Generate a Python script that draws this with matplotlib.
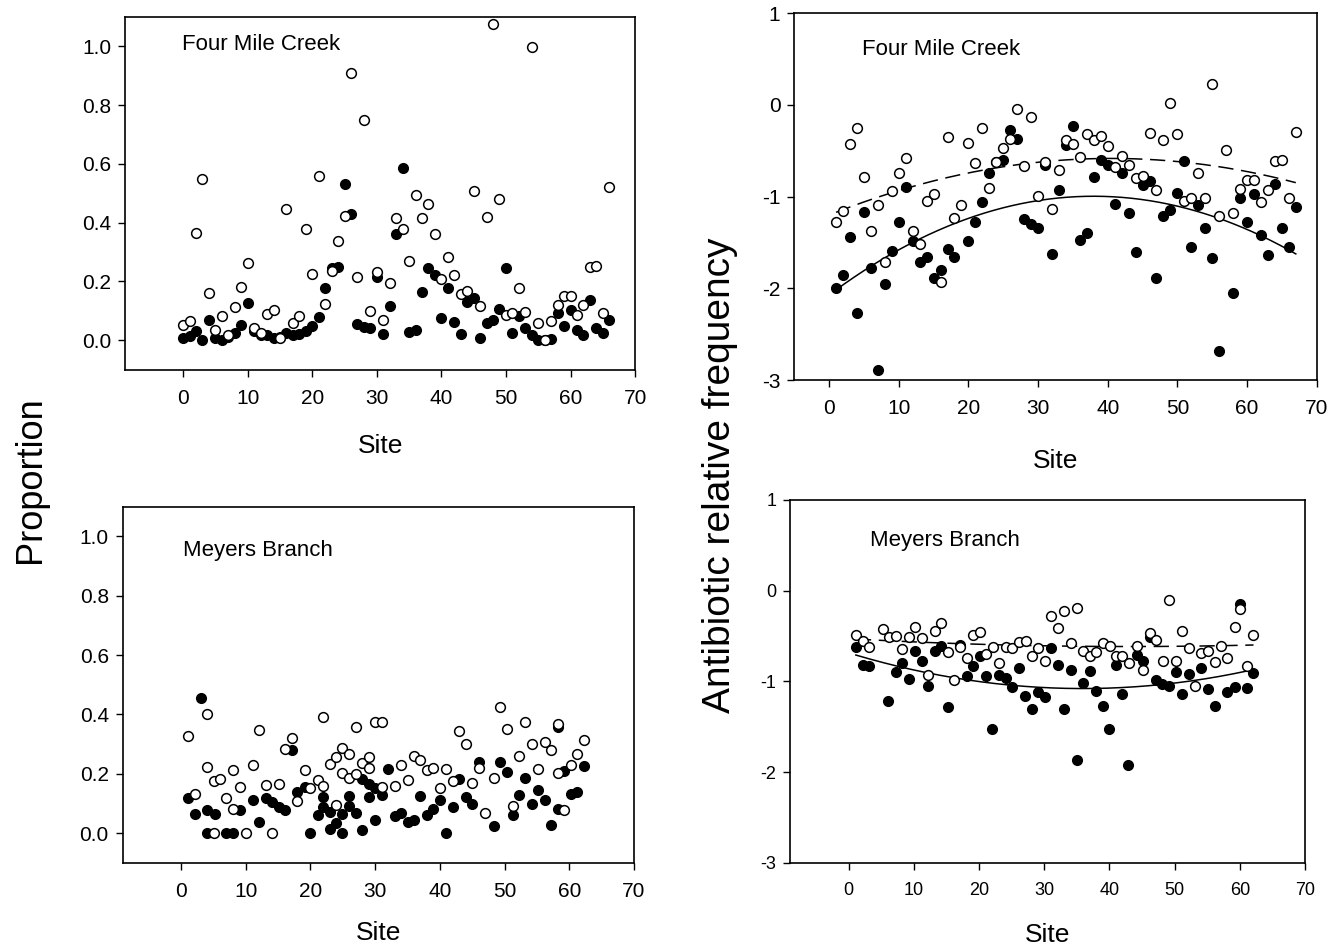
import numpy as np
import matplotlib
matplotlib.use("Agg")
import matplotlib.pyplot as plt

plt.rcParams['font.family'] = ['Liberation Sans', 'DejaVu Sans']
plt.rcParams['axes.unicode_minus'] = False

# ---- Four Mile Creek, proportion (sites 0..66) ----
fm_sites = list(range(0, 67))
fm_prop_open = [0.05, 0.065, 0.365, 0.548, 0.159, 0.034, 0.082, 0.019, 0.113, 0.18,
                0.263, 0.04, 0.026, 0.088, 0.102, 0.009, 0.446, 0.057, 0.082, 0.38,
                0.227, 0.558, 0.122, 0.236, 0.338, 0.423, 0.909, 0.215, 0.748, 0.098,
                0.232, 0.07, 0.193, 0.416, 0.38, 0.27, 0.493, 0.417, 0.464, 0.36,
                0.207, 0.282, 0.221, 0.156, 0.167, 0.509, 0.117, 0.42, 1.075, 0.482,
                0.085, 0.093, 0.178, 0.096, 0.998, 0.057, 0.0, 0.065, 0.119, 0.15,
                0.151, 0.085, 0.119, 0.249, 0.253, 0.094, 0.52]
fm_prop_filled = [0.006, 0.014, 0.031, 0.002, 0.068, 0.006, 0.0, 0.01, 0.023, 0.051,
                  0.125, 0.03, 0.017, 0.017, 0.006, 0.01, 0.023, 0.019, 0.02, 0.03,
                  0.048, 0.079, 0.179, 0.247, 0.249, 0.533, 0.429, 0.054, 0.045, 0.04,
                  0.215, 0.02, 0.116, 0.363, 0.587, 0.028, 0.036, 0.164, 0.247, 0.221,
                  0.074, 0.179, 0.062, 0.02, 0.13, 0.145, 0.008, 0.06, 0.068, 0.105,
                  0.246, 0.023, 0.082, 0.042, 0.017, 0.0, 0.0, 0.003, 0.094, 0.049,
                  0.102, 0.036, 0.019, 0.136, 0.042, 0.023, 0.07]

# ---- Four Mile Creek, antibiotic relative frequency (sites 1..67) ----
fm_freq_sites = list(range(1, 68))
fm_freq_open = [-1.279, -1.159, -0.428, -0.254, -0.79, -1.373, -1.087, -1.714, -0.935, -0.739,
                -0.576, -1.38, -1.518, -1.051, -0.971, -1.931, -0.344, -1.228, -1.09, -0.413,
                -0.638, -0.25, -0.909, -0.623, -0.467, -0.373, -0.043, -0.667, -0.13, -0.993,
                -0.62, -1.134, -0.71, -0.384, -0.428, -0.565, -0.315, -0.384, -0.341, -0.446,
                -0.674, -0.554, -0.656, -0.793, -0.772, -0.301, -0.928, -0.384, 0.018, -0.322,
                -1.047, -1.018, -0.746, -1.011, 0.232, -1.21, -0.493, -1.181, -0.917, -0.819,
                -0.819, -1.058, -0.928, -0.609, -0.601, -1.011, -0.293]
fm_freq_filled = [-2.0, -1.859, -1.435, -2.264, -1.163, -1.775, -2.895, -1.953, -1.594, -1.279,
                  -0.891, -1.486, -1.717, -1.659, -1.884, -1.797, -1.572, -1.663, np.nan, -1.489,
                  -1.275, -1.062, -0.739, -0.62, -0.6, -0.268, -0.366, -1.243, -1.297, -1.344,
                  -0.656, -1.627, -0.928, -0.438, -0.232, -1.478, -1.399, -0.783, -0.601, -0.656,
                  -1.08, -0.746, -1.174, -1.609, -0.873, -0.83, -1.888, -1.207, -1.145, -0.957,
                  -0.612, -1.551, -1.091, -1.344, -1.67, -2.685, np.nan, -2.051, -1.011, -1.272,
                  -0.975, -1.417, -1.634, -0.866, -1.337, -1.551, -1.109]

# ---- Meyers Branch, proportion ----
mb_prop_open_x = [1.1, 2.1, 4.0, 4.0, 5.1, 6.1, 5.1, 7.0, 8.0, 8.0, 9.1, 10.0, 11.1, 12.1, 13.1,
                  14.0, 15.1, 16.0, 17.1, 18.0, 19.1, 20.0, 21.1, 22.0, 22.0, 23.0, 24.0, 24.0,
                  24.9, 24.9, 26.0, 26.0, 27.0, 27.0, 28.0, 29.0, 29.0, 30.0, 31.0, 31.0, 33.0,
                  34.0, 35.0, 36.0, 37.0, 38.0, 39.0, 40.0, 41.0, 42.0, 43.0, 44.0, 44.9, 46.0,
                  47.0, 48.3, 49.3, 50.3, 51.3, 52.3, 53.2, 54.2, 55.2, 56.2, 57.2, 58.2, 58.2,
                  59.2, 60.2, 61.2, 62.2]
mb_prop_open_y = [0.326, 0.133, 0.402, 0.222, 0.175, 0.182, 0.0, 0.118, 0.213, 0.082, 0.155, 0.0,
                  0.23, 0.346, 0.161, 0.0, 0.165, 0.284, 0.319, 0.107, 0.211, 0.153, 0.178, 0.158,
                  0.391, 0.234, 0.256, 0.096, 0.288, 0.203, 0.267, 0.187, 0.198, 0.357, 0.237,
                  0.256, 0.219, 0.374, 0.374, 0.155, 0.158, 0.228, 0.178, 0.26, 0.247, 0.211,
                  0.219, 0.153, 0.217, 0.174, 0.344, 0.301, 0.169, 0.219, 0.069, 0.187, 0.425,
                  0.352, 0.09, 0.258, 0.374, 0.301, 0.217, 0.307, 0.279, 0.369, 0.203, 0.076,
                  0.228, 0.267, 0.315]
mb_prop_filled_x = [1.1, 2.1, 3.1, 4.0, 4.0, 5.2, 7.0, 8.0, 9.1, 11.1, 12.1, 13.1, 14.0, 15.1,
                    16.0, 17.1, 18.0, 19.1, 20.0, 21.1, 22.0, 22.0, 23.0, 23.0, 24.0, 24.9, 24.9,
                    26.0, 26.0, 27.0, 28.0, 28.0, 29.0, 29.0, 30.0, 30.0, 31.0, 32.0, 33.0, 34.0,
                    35.0, 36.0, 37.0, 38.0, 39.0, 40.0, 41.0, 42.0, 43.0, 44.0, 44.9, 46.0, 48.3,
                    49.3, 50.3, 51.3, 52.3, 53.2, 54.2, 55.2, 56.2, 57.2, 58.2, 58.2, 59.2, 60.2,
                    61.2, 62.2]
mb_prop_filled_y = [0.118, 0.065, 0.456, 0.079, 0.0, 0.065, 0.0, 0.0, 0.076, 0.113, 0.037, 0.118,
                    0.104, 0.088, 0.076, 0.281, 0.14, 0.155, 0.0, 0.06, 0.121, 0.088, 0.071,
                    0.012, 0.035, 0.065, 0.0, 0.125, 0.091, 0.069, 0.181, 0.009, 0.164, 0.121,
                    0.045, 0.153, 0.127, 0.217, 0.056, 0.069, 0.037, 0.045, 0.125, 0.06, 0.082,
                    0.11, 0.0, 0.088, 0.181, 0.121, 0.099, 0.239, 0.024, 0.239, 0.206, 0.06,
                    0.127, 0.185, 0.099, 0.146, 0.112, 0.028, 0.357, 0.082, 0.209, 0.133, 0.14,
                    0.225]

# ---- Meyers Branch, antibiotic relative frequency ----
mb_freq_open_x = [1.1, 2.2, 3.1, 5.2, 6.2, 7.2, 8.2, 9.2, 10.2, 11.2, 12.2, 13.2, 14.2, 15.3,
                  16.2, 17.1, 18.1, 19.0, 20.2, 21.1, 22.1, 23.1, 24.1, 25.1, 26.1, 27.2, 28.1,
                  29.1, 30.1, 31.1, 32.1, 33.1, 34.1, 35.0, 36.0, 37.0, 38.0, 39.0, 40.1, 41.0,
                  42.0, 43.0, 44.2, 45.2, 46.2, 47.2, 48.2, 49.2, 50.2, 51.2, 52.2, 53.2, 54.1,
                  55.1, 56.2, 57.1, 58.1, 59.2, 60.1, 61.1, 62.1]
mb_freq_open_y = [-0.485, -0.551, -0.618, -0.423, -0.507, -0.496, -0.643, -0.515, -0.404, -0.522,
                  -0.93, -0.441, -0.36, -0.68, -0.985, -0.625, -0.743, -0.485, -0.452, -0.699,
                  -0.618, -0.798, -0.618, -0.636, -0.57, -0.559, -0.724, -0.636, -0.779, -0.283,
                  -0.408, -0.221, -0.577, -0.195, -0.662, -0.717, -0.673, -0.577, -0.614, -0.724,
                  -0.724, -0.798, -0.614, -0.871, -0.467, -0.54, -0.772, -0.099, -0.772, -0.441,
                  -0.632, -1.048, -0.688, -0.669, -0.79, -0.614, -0.743, -0.397, -0.202, -0.827,
                  -0.489]
mb_freq_filled_x = [1.1, 2.2, 3.1, 6.1, 7.2, 8.2, 9.2, 10.2, 11.2, 12.2, 13.2, 14.2, 15.3, 17.1,
                    18.1, 19.1, 20.2, 21.1, 22.0, 23.1, 24.1, 25.1, 26.1, 27.1, 28.1, 29.1, 30.1,
                    31.1, 32.1, 33.1, 34.1, 35.0, 36.0, 37.0, 38.0, 39.0, 40.0, 41.0, 42.0, 42.9,
                    44.2, 45.2, 46.2, 47.1, 48.1, 49.1, 50.2, 51.2, 52.2, 54.1, 55.1, 56.2, 58.1,
                    59.2, 60.1, 61.1, 62.1]
mb_freq_filled_y = [-0.618, -0.82, -0.835, -1.221, -0.893, -0.798, -0.974, -0.669, -0.779, -1.055,
                    -0.662, -0.607, -1.279, -0.6, -0.945, -0.835, -0.724, -0.945, -1.526, -0.93,
                    -0.967, -1.059, -0.853, -1.165, -1.305, -1.121, -1.176, -0.636, -0.816, -1.305,
                    -0.875, -1.868, -1.022, -0.89, -1.103, -1.276, -1.526, -0.816, -1.14, -1.919,
                    -0.706, -0.772, -0.515, -0.982, -1.029, -1.048, -0.901, -1.14, -0.919, -0.853,
                    -1.085, -1.268, -1.121, -1.059, -0.147, -1.077, -0.908]

MS = 7


def draw_pts(ax, x, y, filled):
    if filled:
        ax.plot(x, y, 'o', ms=MS, mfc='black', mec='black', mew=1, zorder=3)
    else:
        ax.plot(x, y, 'o', ms=MS, mfc='white', mec='black', mew=1.1, zorder=4)


def quad_fit(ax, x, y, ls):
    x = np.asarray(x, float)
    y = np.asarray(y, float)
    ok = ~np.isnan(y)
    c = np.polyfit(x[ok], y[ok], 2)
    xs = np.linspace(x[ok].min(), x[ok].max(), 200)
    if ls == 'dashed':
        ax.plot(xs, np.polyval(c, xs), color='black', lw=1.1, dashes=(10, 5), zorder=2)
    else:
        ax.plot(xs, np.polyval(c, xs), color='black', lw=1.1, zorder=2)


def style(ax, size=15):
    for s in ax.spines.values():
        s.set_linewidth(1.2)
    ax.tick_params(direction='out', length=5, width=1, labelsize=size)
    ax.tick_params(axis='x', pad=9)
    ax.tick_params(axis='y', pad=5)
    ax.set_xticks([0, 10, 20, 30, 40, 50, 60, 70])


fig = plt.figure(figsize=(13.3, 9.5), dpi=100)

# top-left
ax1 = fig.add_axes([0.094, 0.611, 0.3835, 0.371])
draw_pts(ax1, fm_sites, fm_prop_open, False)
draw_pts(ax1, fm_sites, fm_prop_filled, True)
ax1.set_xlim(-9, 70)
ax1.set_ylim(-0.1, 1.1)
ax1.set_yticks([0.0, 0.2, 0.4, 0.6, 0.8, 1.0])
ax1.set_yticklabels(['0.0', '0.2', '0.4', '0.6', '0.8', '1.0'])
style(ax1)
ax1.set_xlabel('Site', fontsize=19, labelpad=19)
ax1.text(0.112, 0.923, 'Four Mile Creek', transform=ax1.transAxes, fontsize=16, va='center')

# bottom-left
ax3 = fig.add_axes([0.0923, 0.0919, 0.3844, 0.3747])
draw_pts(ax3, mb_prop_open_x, mb_prop_open_y, False)
draw_pts(ax3, mb_prop_filled_x, mb_prop_filled_y, True)
ax3.set_xlim(-9, 70)
ax3.set_ylim(-0.1, 1.1)
ax3.set_yticks([0.0, 0.2, 0.4, 0.6, 0.8, 1.0])
ax3.set_yticklabels(['0.0', '0.2', '0.4', '0.6', '0.8', '1.0'])
style(ax3)
ax3.set_xlabel('Site', fontsize=19, labelpad=14)
ax3.text(0.118, 0.878, 'Meyers Branch', transform=ax3.transAxes, fontsize=16, va='center')

# top-right
ax2 = fig.add_axes([0.5972, 0.6, 0.3928, 0.386])
quad_fit(ax2, fm_freq_sites, fm_freq_open, 'dashed')
quad_fit(ax2, fm_freq_sites, fm_freq_filled, 'solid')
draw_pts(ax2, fm_freq_sites, fm_freq_open, False)
draw_pts(ax2, fm_freq_sites, fm_freq_filled, True)
ax2.set_xlim(-5, 70)
ax2.set_ylim(-3, 1)
ax2.set_yticks([-3, -2, -1, 0, 1])
style(ax2)
ax2.set_xlabel('Site', fontsize=19, labelpad=22)
ax2.text(0.13, 0.9, 'Four Mile Creek', transform=ax2.transAxes, fontsize=16, va='center')

# bottom-right
ax4 = fig.add_axes([0.594, 0.0919, 0.3872, 0.3818])
quad_fit(ax4, mb_freq_open_x, mb_freq_open_y, 'dashed')
quad_fit(ax4, mb_freq_filled_x, mb_freq_filled_y, 'solid')
draw_pts(ax4, mb_freq_open_x, mb_freq_open_y, False)
draw_pts(ax4, mb_freq_filled_x, mb_freq_filled_y, True)
ax4.set_xlim(-9, 70)
ax4.set_ylim(-3, 1)
ax4.set_yticks([-3, -2, -1, 0, 1])
style(ax4, size=13)
ax4.set_xlabel('Site', fontsize=19, labelpad=17)
ax4.text(0.155, 0.887, 'Meyers Branch', transform=ax4.transAxes, fontsize=16, va='center')

fig.text(0.023, 0.495, 'Proportion', rotation=90, fontsize=26, ha='center', va='center')
fig.text(0.541, 0.5, 'Antibiotic relative frequency', rotation=90, fontsize=28,
         ha='center', va='center')

fig.savefig('out.png', dpi=100)
